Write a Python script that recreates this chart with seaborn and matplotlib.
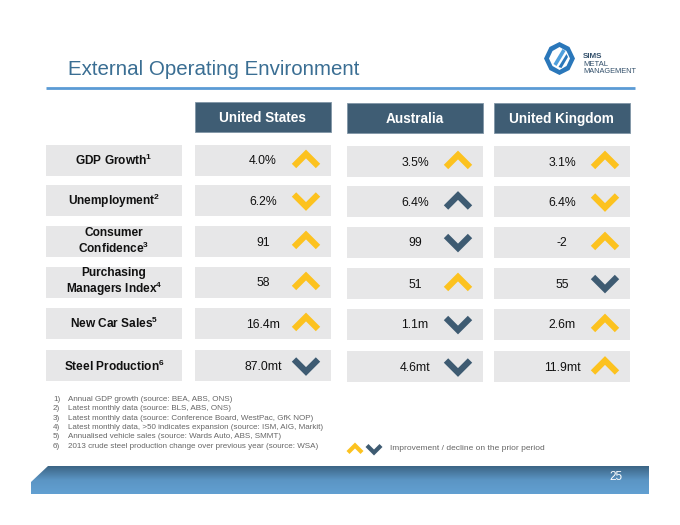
import numpy as np
import matplotlib
matplotlib.use("Agg")
import matplotlib.pyplot as plt
from matplotlib.patches import Rectangle, Polygon
from matplotlib.colors import LinearSegmentedColormap
import seaborn as sns

# ---------------- data ----------------
countries = ["United States", "Australia", "United Kingdom"]
indicators = ["GDP Growth", "Unemployment", "Consumer\nConfidence",
              "Purchasing\nManagers Index", "New Car Sales", "Steel Production"]
footnote_marks = ["1", "2", "3", "4", "5", "6"]
us_values = ["4.0%", "6.2%", "91", "58", "16.4m", "87.0mt"]
au_values = ["3.5%", "6.4%", "99", "51", "1.1m", "4.6mt"]
uk_values = ["3.1%", "6.4%", "-2", "55", "2.6m", "11.9mt"]
# direction of change: 1 = up, -1 = down
us_direction = [1, -1, 1, 1, 1, -1]
au_direction = [1, 1, -1, 1, -1, -1]
uk_direction = [1, -1, 1, -1, 1, 1]
# improvement (True) / decline (False)
us_improved = [True, True, True, True, True, False]
au_improved = [True, False, False, True, False, False]
uk_improved = [True, True, True, False, True, True]
footnotes = [
    "Annual GDP growth (source: BEA, ABS, ONS)",
    "Latest monthly data (source: BLS, ABS, ONS)",
    "Latest monthly data (source: Conference Board, WestPac, GfK NOP)",
    "Latest monthly data, >50 indicates expansion (source: ISM, AIG, Markit)",
    "Annualised vehicle sales (source: Wards Auto, ABS, SMMT)",
    "2013 crude steel production change over previous year (source: WSA)",
]
title = "External Operating Environment"
legend_text = "Improvement / decline on the prior period"
page_number = "25"

values = [us_values, au_values, uk_values]
directions = [us_direction, au_direction, uk_direction]
improved = [us_improved, au_improved, uk_improved]

# ---------------- style ----------------
sns.set_theme(style="white")
plt.rcParams["font.family"] = ["Liberation Sans", "DejaVu Sans"]
plt.rcParams["mathtext.fontset"] = "custom"
plt.rcParams["mathtext.rm"] = "Liberation Sans:bold"
plt.rcParams["mathtext.it"] = "Liberation Sans:bold"
plt.rcParams["mathtext.bf"] = "Liberation Sans:bold"

YELLOW = "#fcc21f"
DARK = "#3e5b72"
HEADER = "#3f5d74"
GRAYBOX = "#e7e7e8"
TITLE_C = "#3a6e93"
LINE_C = "#5b9bd5"

W, H = 680, 525
fig = plt.figure(figsize=(W / 100, H / 100), dpi=100)
ax = fig.add_axes([0, 0, 1, 1])
ax.set_xlim(0, W)
ax.set_ylim(H, 0)
ax.axis("off")


def chevron(cx, cy, up, color, w=24, lw_px=6.2):
    h = w / 2
    xs = [cx - w / 2, cx, cx + w / 2]
    if up:
        ys = [cy + h / 2, cy - h / 2, cy + h / 2]
    else:
        ys = [cy - h / 2, cy + h / 2, cy - h / 2]
    ax.plot(xs, ys, color=color, lw=lw_px * 0.72,
            solid_capstyle="butt", solid_joinstyle="miter", zorder=3)


# title and rule
ax.text(68, 75, title, fontsize=14.8, color=TITLE_C, va="baseline", ha="left")
ax.plot([46, 635], [88, 88], color=LINE_C, lw=2.0, solid_capstyle="butt")

# logo (rotated octagon with inner S stripes)
cxl, cyl = 559.5, 58.5
outer = [(cxl, 42), (cxl + 10, 47), (cxl + 15.5, 58.5), (cxl + 10, 70),
         (cxl, 75), (cxl - 10, 70), (cxl - 15.5, 58.5), (cxl - 10, 47)]
ax.add_patch(Polygon(outer, closed=True, facecolor="#2a77ba", edgecolor="none"))
inner = [(cxl, 47), (cxl + 7, 51), (cxl + 10.5, 58.5), (cxl + 7, 66),
         (cxl, 70), (cxl - 7, 66), (cxl - 10.5, 58.5), (cxl - 7, 51)]
ax.add_patch(Polygon(inner, closed=True, facecolor="white", edgecolor="none"))
ax.add_patch(Polygon([(cxl - 6, 64), (cxl + 3, 49), (cxl + 6, 51), (cxl - 3, 66)],
                     closed=True, facecolor="#4f9fdc", edgecolor="none"))
ax.add_patch(Polygon([(cxl - 1, 67), (cxl + 7, 54), (cxl + 8.5, 57), (cxl + 2, 68)],
                     closed=True, facecolor="#2a77ba", edgecolor="none"))
ax.text(583, 57, "SIMS", fontsize=5.8, fontweight="bold", color="#33506b",
        va="center", ha="left")
ax.text(583, 64.5, "METAL", fontsize=5.6, color="#33506b", va="center", ha="left")
ax.text(583, 71.5, "MANAGEMENT", fontsize=5.3, color="#33506b", va="center", ha="left")

# column geometry
col_left = [195, 347, 494]
col_width = 136
header_top = [102, 103, 103]
row_centers = [160, 200.5, 241, 282, 323, 365.5]
box_h = 31

for j, name in enumerate(countries):
    ax.add_patch(Rectangle((col_left[j], header_top[j]), col_width, 30,
                           facecolor=HEADER, edgecolor="#8196a6", lw=0.6))
    ax.text(col_left[j] + col_width / 2 - 0.5, header_top[j] + 16, name,
            fontsize=9.8, fontweight="bold", color="white",
            ha="center", va="center")

for i, label in enumerate(indicators):
    cy = row_centers[i]
    ax.add_patch(Rectangle((46, cy - box_h / 2), 136, box_h,
                           facecolor=GRAYBOX, edgecolor="none"))
    lines = label.split("\n")
    lines[-1] = lines[-1] + "$^{" + footnote_marks[i] + "}$"
    ax.text(114, cy + 0.5, "\n".join(lines), fontsize=8.6, fontweight="bold",
            color="#111111", ha="center", va="center", linespacing=1.1)
    for j in range(len(countries)):
        off = 1 if j > 0 else 0
        ax.add_patch(Rectangle((col_left[j], cy - box_h / 2 + off), col_width, box_h,
                               facecolor=GRAYBOX, edgecolor="none"))
        ax.text(col_left[j] + 68, cy + off + 1.5, values[j][i], fontsize=8.8,
                color="#111111", ha="center", va="center")
        chevron(col_left[j] + 111, cy + off, directions[j][i] > 0,
                YELLOW if improved[j][i] else DARK)

# footnotes
foot_y = [399.5, 408.8, 418.1, 427.4, 436.7, 446]
for k, note in enumerate(footnotes):
    ax.text(53, foot_y[k], f"{k + 1})", fontsize=5.8, color="#666666",
            ha="left", va="center")
    ax.text(68, foot_y[k], note, fontsize=5.8, color="#666666",
            ha="left", va="center")

# legend
chevron(355, 449, True, YELLOW, w=14, lw_px=4.2)
chevron(374, 449, False, DARK, w=14, lw_px=4.2)
ax.text(390, 449, legend_text, fontsize=6.0, color="#666666",
        ha="left", va="center")

# footer bar with gradient
bar_poly = Polygon([(31, 494), (31, 482), (48, 466), (649, 466), (649, 494)],
                   closed=True, facecolor="none", edgecolor="none")
ax.add_patch(bar_poly)
cmap = LinearSegmentedColormap.from_list("bar", ["#3c6585", "#5b95c4", "#62a0d2"])
grad = np.linspace(0, 1, 100).reshape(-1, 1)
im = ax.imshow(grad, extent=(31, 649, 494, 466), cmap=cmap, aspect="auto",
               origin="upper", zorder=1)
im.set_clip_path(bar_poly)
ax.set_xlim(0, W)
ax.set_ylim(H, 0)
ax.text(616, 477.5, page_number, fontsize=8.5, color="white",
        ha="center", va="center", zorder=2)

fig.savefig("out.png", dpi=100)
